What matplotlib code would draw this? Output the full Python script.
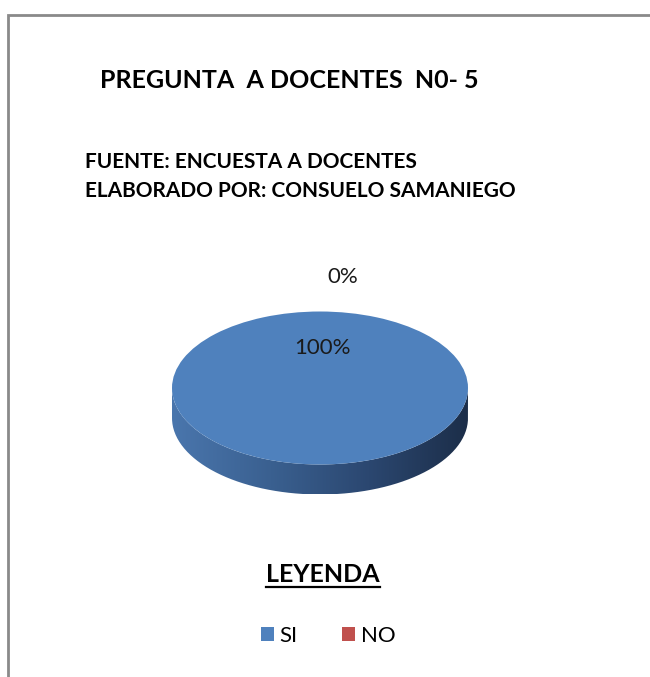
import numpy as np
import matplotlib
matplotlib.use("Agg")
import matplotlib.pyplot as plt
from matplotlib.patches import Rectangle, PathPatch
from matplotlib.path import Path
from matplotlib.colors import LinearSegmentedColormap

# ---- data ----
categories = ["SI", "NO"]
values = [100, 0]
pct_labels = ["100%", "0%"]
title = "PREGUNTA  A DOCENTES  N0- 5"
source_lines = ["FUENTE: ENCUESTA A DOCENTES", "ELABORADO POR: CONSUELO SAMANIEGO"]
legend_title = "LEYENDA"
colors = ["#4f81bd", "#c0504d"]

W, H = 650, 677
fig = plt.figure(figsize=(W / 100, H / 100), dpi=100)
fig.patch.set_facecolor("white")
FONT = "Lato"

def fx(px):
    return px / W

def fy(py):
    return 1 - py / H

# border (extends beyond the right and bottom edges)
fig.add_artist(Rectangle((fx(8), -0.1), 2, fy(15) + 0.1, transform=fig.transFigure,
                         fill=False, ec="#8a8a8a", lw=2))

fig.text(fx(100), fy(80), title, fontsize=18, fontweight="bold", family=FONT,
         va="center", ha="left", color="black")
fig.text(fx(85), fy(162), source_lines[0], fontsize=15, fontweight="bold", family=FONT,
         va="center", ha="left")
fig.text(fx(85), fy(191), source_lines[1], fontsize=15, fontweight="bold", family=FONT,
         va="center", ha="left")

# ---- pie axes ----
cx, cy = 320, 388       # pixel center of top face
rx, ry = 148, 76.5       # pixel radii
thick_px = 30
left, right, top, bottom = 150, 490, 250, 520
ax = fig.add_axes([fx(left), fy(bottom), (right - left) / W, (bottom - top) / H])
wedges, _ = ax.pie(values, colors=colors, startangle=90, counterclock=False,
                   wedgeprops=dict(linewidth=0), radius=1, center=(0, 0))
ax.set_aspect("auto")
ax.set_xlim((left - cx) / rx, (right - cx) / rx)
ax.set_ylim((cy - bottom) / ry, (cy - top) / ry)
ax.axis("off")

t = thick_px / ry
th = np.linspace(np.pi, 2 * np.pi, 200)
xs = np.concatenate([np.cos(th), np.cos(th[::-1])])
ys = np.concatenate([np.sin(th), np.sin(th[::-1]) - t])
side = PathPatch(Path(np.column_stack([xs, ys]), closed=False), fc="none", ec="none",
                 transform=ax.transData)
ax.add_patch(side)
cmap = LinearSegmentedColormap.from_list("side", ["#4a76ad", "#3a6090", "#2b4770", "#1c2e49"])
grad = np.linspace(0, 1, 256).reshape(1, -1)
im = ax.imshow(grad, cmap=cmap, extent=(-1, 1, -1 - t, 0), aspect="auto", zorder=0.5,
               interpolation="bilinear")
im.set_clip_path(side)
for w in wedges:
    w.set_zorder(1)

ax.text((322 - cx) / rx, (cy - 348) / ry, pct_labels[0], fontsize=16, family=FONT,
        ha="center", va="center", color="#1a1a1a", zorder=3)
ax.text((343 - cx) / rx, (cy - 277) / ry, pct_labels[1], fontsize=16, family=FONT,
        ha="center", va="center", color="#1a1a1a", zorder=3, clip_on=False)

# ---- legend ----
lt = fig.text(fx(323), fy(574), legend_title, fontsize=18, fontweight="bold", family=FONT,
              ha="center", va="center")
fig.canvas.draw()
bb = lt.get_window_extent()
fig.add_artist(plt.Line2D([bb.x0 / W, bb.x1 / W], [(bb.y0 - 1) / H] * 2,
                          transform=fig.transFigure, color="black", lw=1.6))

leg = fig.legend(wedges, categories, loc="center", bbox_to_anchor=(fx(328), fy(636)),
                 ncol=2, frameon=False, prop=dict(family=FONT, size=16),
                 handlelength=0.6, handleheight=0.6, handletextpad=0.25,
                 columnspacing=2.0)

fig.savefig("out.png", dpi=100, facecolor="white")
